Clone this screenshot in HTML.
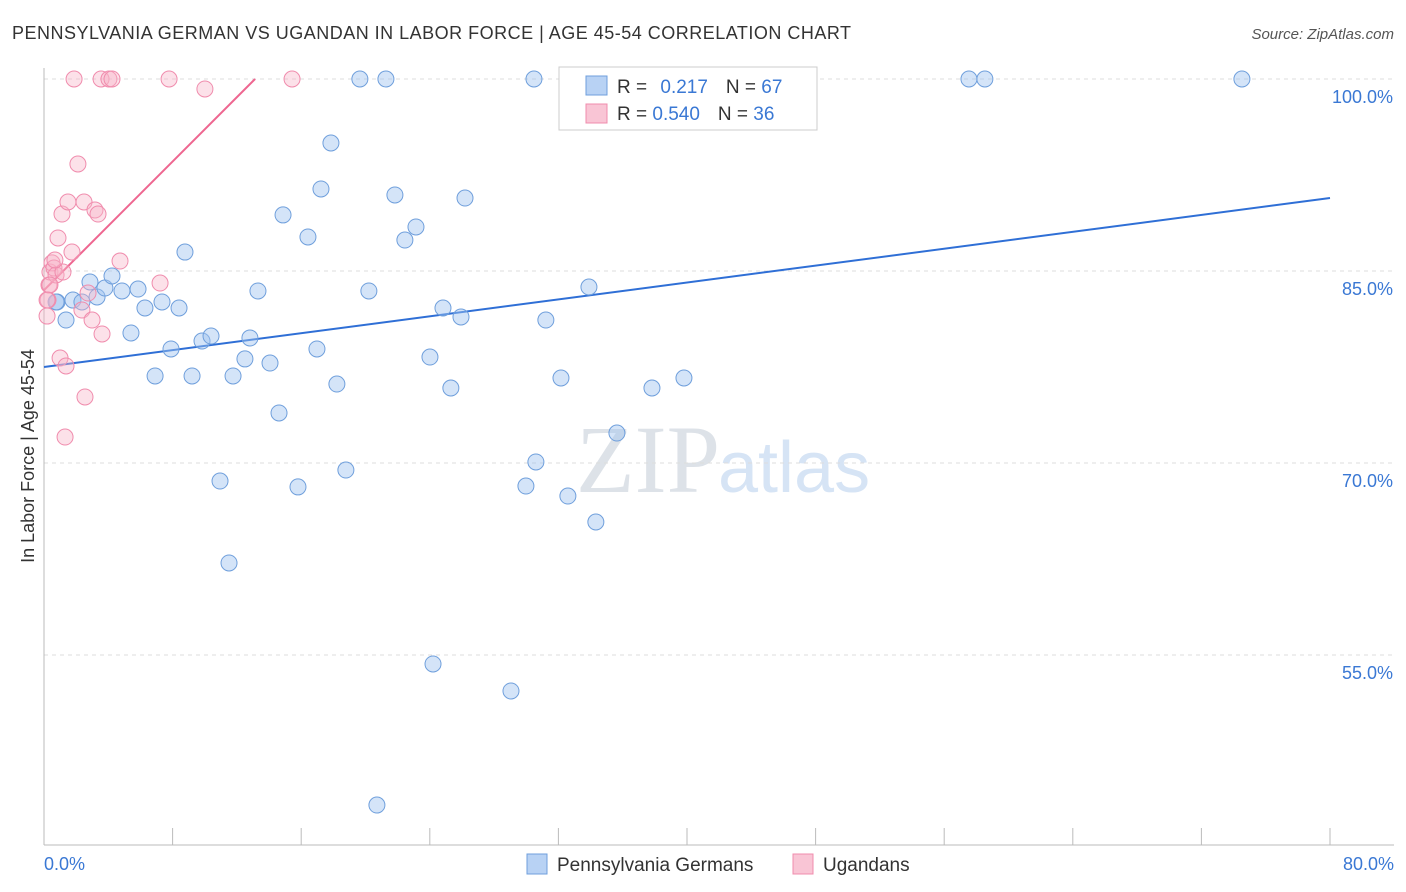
<!DOCTYPE html>
<html><head><meta charset="utf-8"><style>
body{margin:0;background:#fff;font-family:"Liberation Sans",sans-serif;}
svg{display:block}
</style></head><body>
<svg id="chart" width="1406" height="892">
<text x="12" y="39" font-size="18" fill="#333" textLength="839" lengthAdjust="spacing">PENNSYLVANIA GERMAN VS UGANDAN IN LABOR FORCE | AGE 45-54 CORRELATION CHART</text>
<text x="1394" y="39" font-size="15" fill="#555" font-style="italic" text-anchor="end">Source: ZipAtlas.com</text>
<text x="720" y="492" font-size="96" fill="#dde2e8" text-anchor="end" font-family="Liberation Serif">ZIP</text>
<text x="718" y="492" font-size="72" fill="#d6e4f5">atlas</text>
<g id="grid"></g><g id="axes"></g>
<text transform="translate(34,456) rotate(-90)" font-size="18" fill="#333" text-anchor="middle">In Labor Force | Age 45-54</text>
<g id="lines"></g><g id="pts"></g>
<g>
<rect x="559" y="67" width="258" height="63" fill="#fff" stroke="#ccc"/>
<rect x="586" y="76" width="21" height="19" fill="#b8d2f4" stroke="#6f9fdc"/>
<rect x="586" y="104" width="21" height="19" fill="#f9c5d5" stroke="#f08cad"/>
<text x="617" y="93" font-size="19" fill="#333">R = <tspan fill="#3a78d4" dx="8">0.217</tspan><tspan dx="18" fill="#333">N = </tspan><tspan fill="#3a78d4">67</tspan></text>
<text x="617" y="120" font-size="19" fill="#333">R = <tspan fill="#3a78d4">0.540</tspan><tspan dx="18" fill="#333">N = </tspan><tspan fill="#3a78d4">36</tspan></text>
</g>
<g>
<rect x="527" y="854" width="20" height="20" fill="#b8d2f4" stroke="#6f9fdc"/>
<text x="557" y="871" font-size="19" fill="#333">Pennsylvania Germans</text>
<rect x="793" y="854" width="20" height="20" fill="#f9c5d5" stroke="#f08cad"/>
<text x="823" y="871" font-size="19" fill="#333">Ugandans</text>
</g>
</svg>
<script>
const yTicks=[100,85,70,55];
const xTickLabels=["0.0%","80.0%"];
const blueX=[0.81,1.37,1.80,2.36,2.86,3.30,3.79,4.23,4.85,5.41,5.85,6.28,6.91,7.34,7.90,8.40,8.77,9.21,9.83,10.39,10.95,11.51,11.76,12.50,12.81,13.31,14.06,14.62,14.87,15.80,16.42,16.98,17.23,17.85,18.22,18.78,19.65,20.21,20.71,21.27,21.83,22.45,23.14,24.01,24.20,24.82,25.31,25.94,26.19,29.05,29.98,30.48,30.60,31.22,32.16,32.59,33.90,34.33,35.64,37.82,39.81,46.84,46.96,57.54,58.53,74.52,0.75];
const blueY=[82.58,81.17,82.73,82.58,84.14,82.97,83.67,84.61,83.44,80.16,83.59,82.11,76.80,82.58,78.91,82.11,86.48,76.80,79.53,79.92,68.59,62.19,76.80,78.13,79.77,83.44,77.81,73.91,89.38,68.13,87.66,78.91,91.41,95.00,76.17,69.45,100,83.44,43.28,100,90.94,87.42,88.44,78.28,54.30,82.11,75.86,81.41,90.70,52.19,68.20,100,70.08,81.17,76.64,67.42,83.75,65.39,72.34,75.86,76.64,100,100,100,100,100,82.58];
const pinkX=[0.19,0.25,0.31,0.37,0.50,0.62,0.75,0.87,1.00,1.12,1.18,1.31,1.37,1.49,1.74,1.87,2.11,2.36,2.49,2.55,2.74,2.99,3.17,3.36,3.55,3.61,4.04,4.23,4.73,7.22,7.78,10.01,15.43,0.37,0.19,0.68];
const pinkY=[81.48,82.73,83.91,84.92,85.63,85.23,84.69,87.58,78.20,89.45,84.92,72.03,77.58,90.39,86.48,100,93.36,81.95,90.39,75.16,83.28,81.17,89.77,89.45,100,80.08,100,100,85.78,84.06,100,99.22,100,83.91,82.73,85.86];
const blueTrend=[[0,77.5],[80,90.7]];
const pinkTrend=[[0,83.5],[13.13,100]];
const NS="http://www.w3.org/2000/svg";
const sx=v=>44+v*16.075, sy=v=>79+(100-v)*12.8;
function mk(tag,attrs,parent){const e=document.createElementNS(NS,tag);for(const k in attrs)e.setAttribute(k,attrs[k]);document.getElementById(parent).appendChild(e);return e;}
yTicks.forEach(t=>{
 const l=mk('line',{x1:44,x2:1394,y1:sy(t),y2:sy(t),stroke:'#ddd','stroke-dasharray':'4,4'},'grid');
 
 
 const tx=mk('text',{x:1393,y:sy(t)+24,'font-size':18,fill:'#3a78d4','text-anchor':'end'},'grid');
 tx.textContent=t.toFixed(1)+'%';
 
 
});
const ax=mk('line',{x1:44,x2:1394,y1:845,y2:845,stroke:'#bbb'},'axes');


const ay=mk('line',{x1:44,x2:44,y1:68,y2:845,stroke:'#bbb'},'axes');


for(let i=0;i<=10;i++){const tk=mk('line',{x1:sx(i*8),x2:sx(i*8),y1:828,y2:845,stroke:'#bbb'},'axes');
 
 }
[[0,'start',44],[1,'end',1394]].forEach(([i,a,x])=>{const t=mk('text',{x:x,y:870,'font-size':18,fill:'#3a78d4','text-anchor':a},'axes');t.textContent=xTickLabels[i];
 
 });
blueX.forEach((v,i)=>{const c=mk('circle',{cx:sx(v),cy:sy(blueY[i]),r:8,fill:'rgba(160,196,240,0.45)',stroke:'#6f9fdc','stroke-width':1},'pts');
 
 });
pinkX.forEach((v,i)=>{const c=mk('circle',{cx:sx(v),cy:sy(pinkY[i]),r:8,fill:'rgba(248,180,200,0.4)',stroke:'#f08cad','stroke-width':1},'pts');
 
 });
const bl=mk('line',{x1:sx(blueTrend[0][0]),y1:sy(blueTrend[0][1]),x2:sx(blueTrend[1][0]),y2:sy(blueTrend[1][1]),stroke:'#2f6fd6','stroke-width':2},'lines');


const pl=mk('line',{x1:sx(pinkTrend[0][0]),y1:sy(pinkTrend[0][1]),x2:sx(pinkTrend[1][0]),y2:sy(pinkTrend[1][1]),stroke:'#ee6690','stroke-width':2},'lines');


</script>
</body></html>
